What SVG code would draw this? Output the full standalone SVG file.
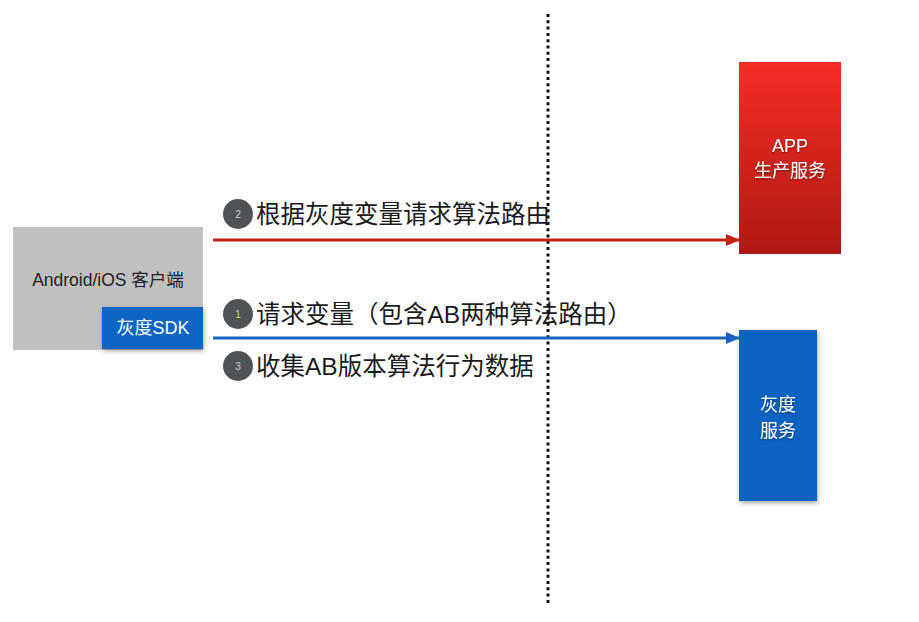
<svg xmlns="http://www.w3.org/2000/svg" width="919" height="622" viewBox="0 0 919 622">
<defs>
<linearGradient id="redg" x1="0" y1="0" x2="0" y2="1">
<stop offset="0" stop-color="#f62d25"/>
<stop offset="1" stop-color="#ae1913"/>
</linearGradient>
<filter id="sh" x="-20%" y="-20%" width="140%" height="140%">
<feDropShadow dx="1" dy="2" stdDeviation="2" flood-color="#000" flood-opacity="0.35"/>
</filter>
<filter id="tsh" x="-20%" y="-20%" width="140%" height="140%">
<feDropShadow dx="0" dy="1" stdDeviation="1" flood-color="#000" flood-opacity="0.5"/>
</filter>
<marker id="ar" markerWidth="14" markerHeight="12" refX="13" refY="6" orient="auto" markerUnits="userSpaceOnUse">
<path d="M0,0 L14,6 L0,12 Z" fill="#c8200f"/>
</marker>
<marker id="ab" markerWidth="14" markerHeight="12" refX="13" refY="6" orient="auto" markerUnits="userSpaceOnUse">
<path d="M0,0 L14,6 L0,12 Z" fill="#1a63c1"/>
</marker>
</defs>
<style>
text{font-family:"Liberation Sans","Noto Sans CJK SC",sans-serif;}
.lbl{font-size:24.5px;fill:#1a1a1a;}
.num{font-size:10px;fill:#d0d0d0;text-anchor:middle;}
.wt{font-size:18px;fill:#ffffff;text-anchor:middle;}
.circ{fill:#4f5257;}
</style>
<rect width="919" height="622" fill="#ffffff"/>
<g id="divider">
<line x1="548" y1="14" x2="548" y2="606" stroke="#111" stroke-width="3" stroke-dasharray="3,3.3"/>
</g>
<g id="client">
<rect x="13" y="227" width="190" height="123" fill="#c0c0c0"/>
<text x="108" y="286" text-anchor="middle" font-size="17.5" fill="#222">Android/iOS 客户端</text>
</g>
<g id="sdk">
<rect x="102" y="307" width="101" height="42" fill="#0a66c4" filter="url(#sh)"/>
<text x="153" y="334" class="wt" font-size="16">灰度SDK</text>
</g>
<g id="app">
<rect x="739" y="62" width="102" height="192" fill="url(#redg)"/>
<text x="790" y="152" class="wt" filter="url(#tsh)">APP</text>
<text x="790" y="177" class="wt" filter="url(#tsh)">生产服务</text>
</g>
<g id="gray-service">
<rect x="739" y="330" width="78" height="171" fill="#0a63c2" filter="url(#sh)"/>
<text x="778" y="411" class="wt" font-size="18.5" filter="url(#tsh)">灰度</text>
<text x="778" y="437" class="wt" font-size="18.5" filter="url(#tsh)">服务</text>
</g>
<g id="connectors">
<line x1="213" y1="240" x2="739" y2="240" stroke="#c8200f" stroke-width="3" marker-end="url(#ar)"/>
<line x1="213" y1="338" x2="739" y2="338" stroke="#1a63c1" stroke-width="3" marker-end="url(#ab)"/>
</g>
<g id="label2">
<circle cx="238" cy="214" r="15" class="circ"/>
<text x="238" y="218" class="num">2</text>
<text x="256" y="223" class="lbl">根据灰度变量请求算法路由</text>
</g>
<g id="label1">
<circle cx="238" cy="314" r="15" class="circ"/>
<text x="238" y="318" class="num">1</text>
<text x="256" y="323" class="lbl">请求变量（包含AB两种算法路由）</text>
</g>
<g id="label3">
<circle cx="238" cy="366" r="15" class="circ"/>
<text x="238" y="370" class="num">3</text>
<text x="256" y="375" class="lbl">收集AB版本算法行为数据</text>
</g>
</svg>
